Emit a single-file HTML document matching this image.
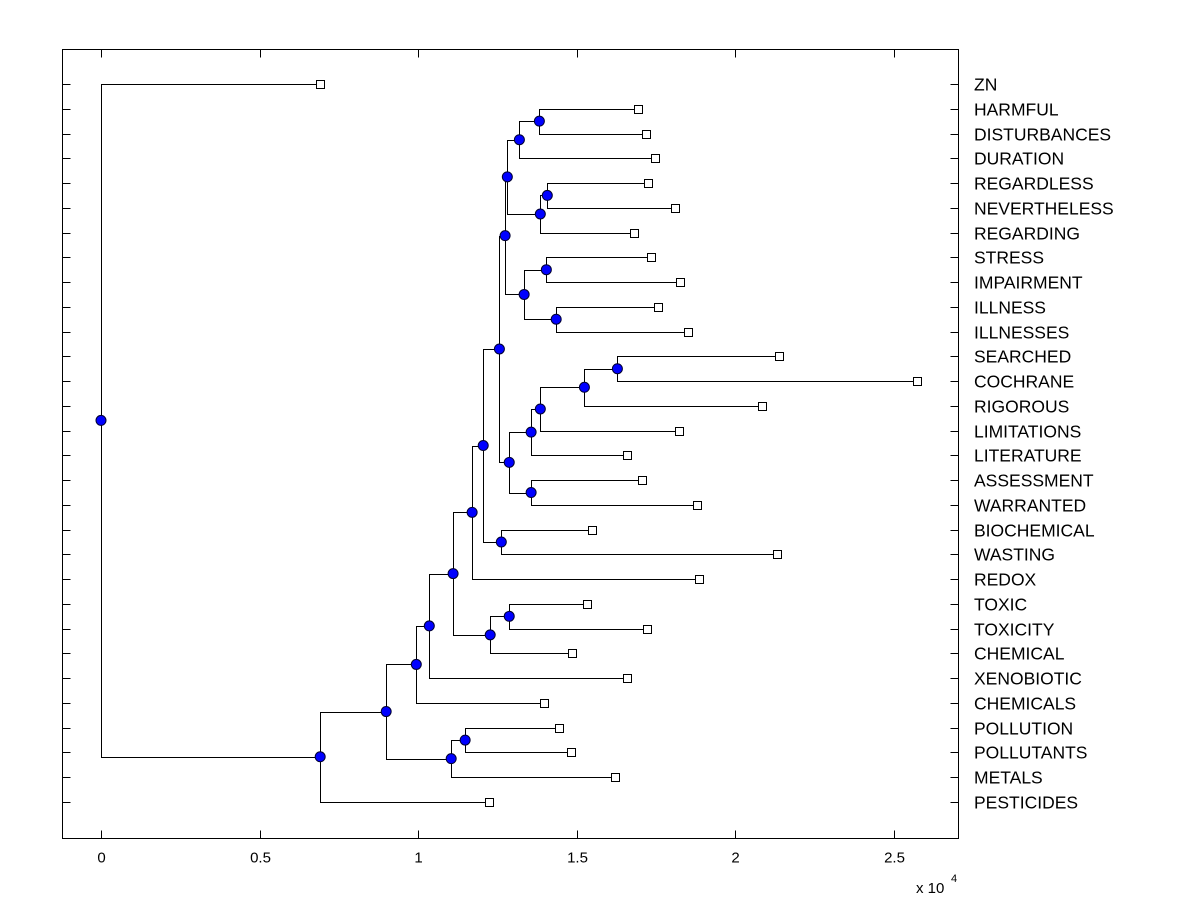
<!DOCTYPE html>
<html><head><meta charset="utf-8"><style>
body{margin:0;background:#fff}
svg{display:block;font-family:"Liberation Sans",Arial,sans-serif}
</style></head><body>
<svg id="chart" width="1200" height="900" viewBox="0 0 1200 900">
<rect x="0" y="0" width="1200" height="900" fill="#fff"/>
<g id="axes"></g><g id="links"></g><g id="marks"></g>
</svg>
<script>
const labels=["ZN","HARMFUL","DISTURBANCES","DURATION","REGARDLESS","NEVERTHELESS","REGARDING","STRESS","IMPAIRMENT","ILLNESS","ILLNESSES","SEARCHED","COCHRANE","RIGOROUS","LIMITATIONS","LITERATURE","ASSESSMENT","WARRANTED","BIOCHEMICAL","WASTING","REDOX","TOXIC","TOXICITY","CHEMICAL","XENOBIOTIC","CHEMICALS","POLLUTION","POLLUTANTS","METALS","PESTICIDES"];
const leafValues=[0.691,1.694,1.719,1.748,1.726,1.811,1.681,1.735,1.826,1.757,1.849,2.139,2.574,2.085,1.823,1.659,1.707,1.880,1.549,2.132,1.886,1.533,1.722,1.486,1.659,1.397,1.445,1.483,1.621,1.224];
// merges: children >=30 refer to merge index-30
const mergeLeft =[1, 30,4, 32,31,7, 9, 35,34,11,39,40,41,16,42,38,18,45,47,21,49,48,51,52,26,54,53,56,0];
const mergeRight=[2, 3, 5, 6, 33,8, 10,36,37,12,13,14,15,17,43,44,19,46,20,22,23,50,24,25,27,28,55,29,57];
const mergeHeight=[1.382,1.319,1.407,1.385,1.281,1.404,1.435,1.334,1.274,1.628,1.524,1.385,1.356,1.356,1.287,1.256,1.262,1.205,1.170,1.287,1.227,1.110,1.035,0.994,1.148,1.104,0.899,0.691,0];
const xTicks=[0,0.5,1,1.5,2,2.5];
const xTickLabels=["0","0.5","1","1.5","2","2.5"];

const NS="http://www.w3.org/2000/svg";
const L=62.5,R=958.5,T=49.5,B=838.5;
const xs=v=>101+v*317.2;
const ys=i=>84+i*(802-84)/29;
function mk(tag,attrs,parent,txt){const e=document.createElementNS(NS,tag);for(const k in attrs)e.setAttribute(k,attrs[k]);if(txt!==undefined)e.textContent=txt;parent.appendChild(e);return e;}
const ax=document.getElementById('axes'),lk=document.getElementById('links'),mg=document.getElementById('marks');
const box=mk('rect',{x:L,y:T,width:R-L,height:B-T,fill:'none',stroke:'#000','stroke-width':1},ax);


xTicks.forEach((v,i)=>{
  const x=Math.round(xs(v))+0.5;
  const t1=mk('line',{x1:x,x2:x,y1:B,y2:B-8,stroke:'#000'},ax);
  
  
  mk('line',{x1:x,x2:x,y1:T,y2:T+8,stroke:'#000'},ax);
  const tl=mk('text',{x:x,y:B+24,'text-anchor':'middle','font-size':15},ax,xTickLabels[i]);
  
  
});
const ex=mk('text',{x:916,y:893,'font-size':15},ax,'x 10');


mk('text',{x:951,y:882,'font-size':11},ax,'4');
labels.forEach((lab,i)=>{
  const y=Math.round(ys(i))+0.5;
  mk('line',{x1:L,x2:L+8,y1:y,y2:y,stroke:'#000'},ax);
  mk('line',{x1:R,x2:R-8,y1:y,y2:y,stroke:'#000'},ax);
  const t=mk('text',{x:974,y:y+6,'font-size':17.5},ax,lab);
  
  
});
const nx=[],ny=[];
leafValues.forEach((v,i)=>{nx[i]=xs(v);ny[i]=ys(i);});
mergeHeight.forEach((h,k)=>{
  const a=mergeLeft[k],b=mergeRight[k];
  nx[30+k]=xs(h);ny[30+k]=(ny[a]+ny[b])/2;
});
mergeHeight.forEach((h,k)=>{
  const a=mergeLeft[k],b=mergeRight[k],x=Math.round(nx[30+k])+0.5;
  const p=mk('path',{d:`M${Math.round(nx[a])+0.5},${Math.round(ny[a])+0.5}H${x}V${Math.round(ny[b])+0.5}H${Math.round(nx[b])+0.5}`,fill:'none',stroke:'#000','stroke-width':1},lk);
  
  
});
leafValues.forEach((v,i)=>{
  const s=mk('rect',{x:Math.round(nx[i])-3.5,y:Math.round(ny[i])-3.5,width:8,height:8,fill:'#fff',stroke:'#000'},mg);
  
  
});
mergeHeight.forEach((h,k)=>{
  const c=mk('circle',{cx:nx[30+k],cy:ny[30+k],r:5,fill:'#0000ff',stroke:'#000030','stroke-width':1},mg);
  
  
});
</script>
</body></html>
